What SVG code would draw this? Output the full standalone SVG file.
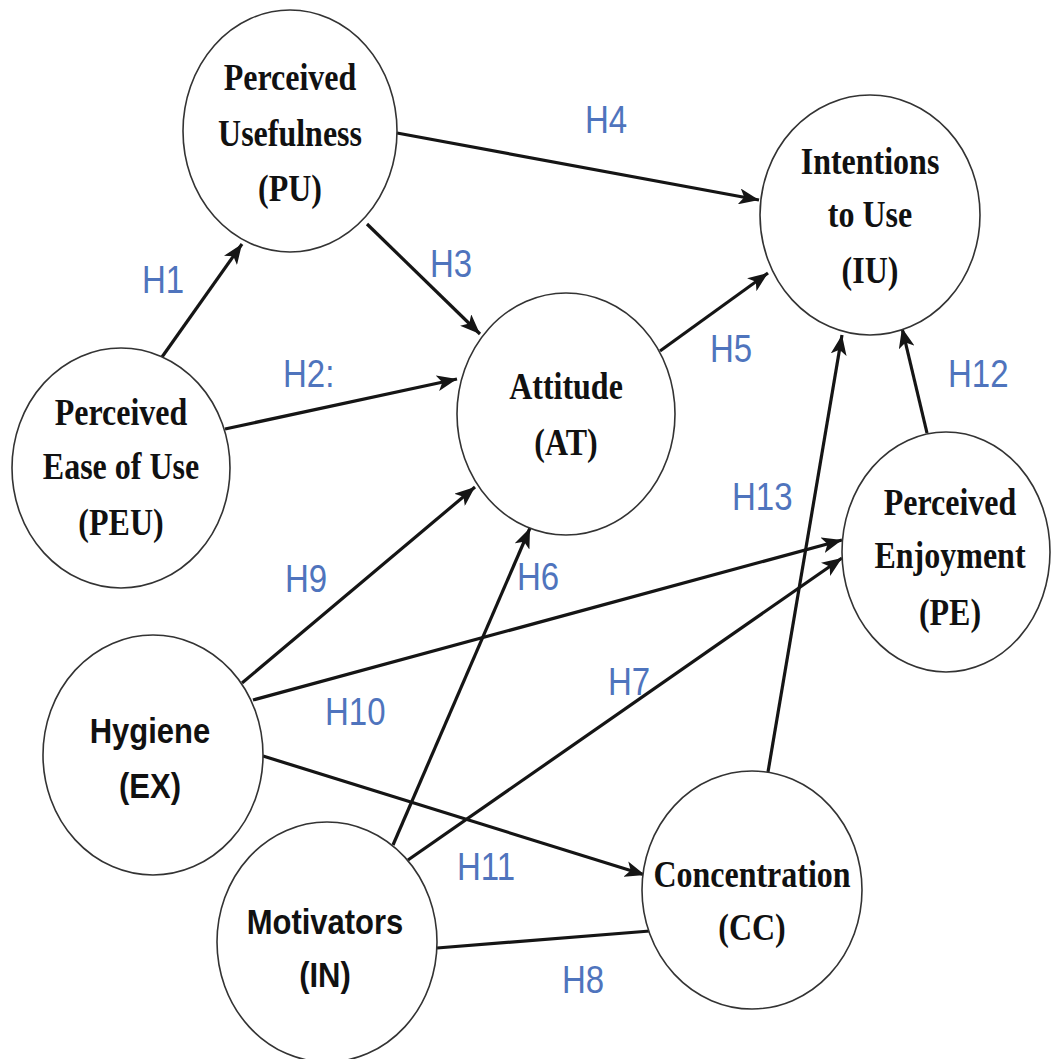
<svg xmlns="http://www.w3.org/2000/svg" width="1051" height="1059" viewBox="0 0 1051 1059">
<style>
.node{fill:#fff;stroke:#333;stroke-width:1.6}
.tt{font-family:"Liberation Serif","Times New Roman",serif;font-weight:bold;font-size:32px;fill:#111;text-anchor:middle}
.ta{font-family:"Liberation Sans",Arial,sans-serif;font-weight:bold;font-size:31px;fill:#111;text-anchor:middle}
.lbl{font-family:"Liberation Sans",Arial,sans-serif;font-size:33px;fill:#4f74bd}
.edge{stroke:#151515;stroke-width:3.2;fill:none}
</style>
<defs>
<marker id="ah" markerUnits="userSpaceOnUse" markerWidth="22" markerHeight="16" refX="20" refY="8" orient="auto">
<path d="M0,0 L20,8 L0,16 L5,8 z" fill="#151515"/>
</marker>
</defs>
<rect width="1051" height="1059" fill="#fff"/>
<g id="connectors">
<line class="edge" x1="162" y1="357" x2="242" y2="244" marker-end="url(#ah)"/>
<line class="edge" x1="225" y1="429" x2="457" y2="379" marker-end="url(#ah)"/>
<line class="edge" x1="367" y1="224" x2="480" y2="334" marker-end="url(#ah)"/>
<line class="edge" x1="397" y1="133" x2="759" y2="200" marker-end="url(#ah)"/>
<line class="edge" x1="660" y1="351" x2="768" y2="273" marker-end="url(#ah)"/>
<line class="edge" x1="393" y1="845" x2="530" y2="528" marker-end="url(#ah)"/>
<line class="edge" x1="408" y1="860" x2="842" y2="558" marker-end="url(#ah)"/>
<line class="edge" x1="437" y1="948" x2="650" y2="931"/>
<line class="edge" x1="242" y1="683" x2="475" y2="487" marker-end="url(#ah)"/>
<line class="edge" x1="253" y1="700" x2="842" y2="540" marker-end="url(#ah)"/>
<line class="edge" x1="263" y1="756" x2="645" y2="875" marker-end="url(#ah)"/>
<line class="edge" x1="927" y1="433" x2="902" y2="328" marker-end="url(#ah)"/>
<line class="edge" x1="768" y1="772" x2="842" y2="335" marker-end="url(#ah)"/>
</g>
<g id="labels">
<text class="lbl" transform="translate(142,293) scale(1,1.15)">H1</text>
<text class="lbl" transform="translate(283,387) scale(1,1.15)">H2:</text>
<text class="lbl" transform="translate(430,277) scale(1,1.15)">H3</text>
<text class="lbl" transform="translate(585,133) scale(1,1.15)">H4</text>
<text class="lbl" transform="translate(710,362) scale(1,1.15)">H5</text>
<text class="lbl" transform="translate(517,590) scale(1,1.15)">H6</text>
<text class="lbl" transform="translate(608,695) scale(1,1.15)">H7</text>
<text class="lbl" transform="translate(562,993) scale(1,1.15)">H8</text>
<text class="lbl" transform="translate(285,592) scale(1,1.15)">H9</text>
<text class="lbl" transform="translate(325,725) scale(1,1.15)">H10</text>
<text class="lbl" transform="translate(457,880) scale(1,1.15)">H11</text>
<text class="lbl" transform="translate(948,387) scale(1,1.15)">H12</text>
<text class="lbl" transform="translate(732,510) scale(1,1.15)">H13</text>
</g>
<g id="PU">
<ellipse class="node" cx="290" cy="131" rx="107" ry="121"/>
<text class="tt" transform="translate(290,90) scale(1,1.18)">Perceived</text>
<text class="tt" transform="translate(290,146) scale(1,1.18)">Usefulness</text>
<text class="tt" transform="translate(290,201) scale(1,1.18)">(PU)</text>
</g>
<g id="IU">
<ellipse class="node" cx="870" cy="215" rx="110" ry="120"/>
<text class="tt" transform="translate(870,174) scale(1,1.18)">Intentions</text>
<text class="tt" transform="translate(870,227) scale(1,1.18)">to Use</text>
<text class="tt" transform="translate(870,283) scale(1,1.18)">(IU)</text>
</g>
<g id="PEU">
<ellipse class="node" cx="121" cy="468" rx="109" ry="120"/>
<text class="tt" transform="translate(121,425) scale(1,1.18)">Perceived</text>
<text class="tt" transform="translate(121,479) scale(1,1.18)">Ease of Use</text>
<text class="tt" transform="translate(121,535) scale(1,1.18)">(PEU)</text>
</g>
<g id="AT">
<ellipse class="node" cx="566" cy="414" rx="109" ry="121"/>
<text class="tt" transform="translate(566,399) scale(1,1.18)">Attitude</text>
<text class="tt" transform="translate(566,455) scale(1,1.18)">(AT)</text>
</g>
<g id="PE">
<ellipse class="node" cx="946" cy="552" rx="104" ry="120"/>
<text class="tt" transform="translate(950,515) scale(1,1.18)">Perceived</text>
<text class="tt" transform="translate(950,568) scale(1,1.18)">Enjoyment</text>
<text class="tt" transform="translate(950,625) scale(1,1.18)">(PE)</text>
</g>
<g id="EX">
<ellipse class="node" cx="153" cy="755" rx="110" ry="120"/>
<text class="ta" transform="translate(150,743) scale(1,1.15)">Hygiene</text>
<text class="ta" transform="translate(150,798) scale(1,1.15)">(EX)</text>
</g>
<g id="IN">
<ellipse class="node" cx="327" cy="942" rx="110" ry="120"/>
<text class="ta" transform="translate(325,934) scale(1,1.15)">Motivators</text>
<text class="ta" transform="translate(325,987) scale(1,1.15)">(IN)</text>
</g>
<g id="CC">
<ellipse class="node" cx="752" cy="890" rx="110" ry="119"/>
<text class="tt" transform="translate(752,887) scale(1,1.18)">Concentration</text>
<text class="tt" transform="translate(752,940) scale(1,1.18)">(CC)</text>
</g>
</svg>
